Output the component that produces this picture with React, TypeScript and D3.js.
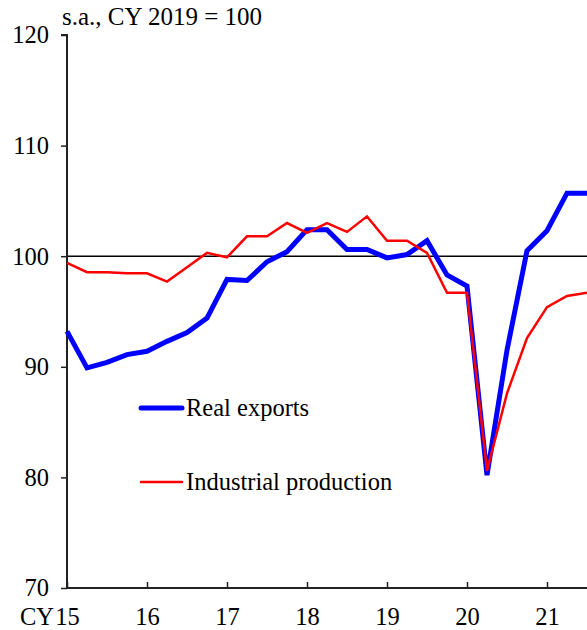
import React, { useEffect, useRef } from 'react';
import * as d3 from 'd3';

// quarterly, CY15 Q1 .. CY21 Q3
const quarters = d3.range(27);
const realExports = [
  93.2, 89.9, 90.4, 91.1, 91.4, 92.3, 93.1, 94.4,
  97.9, 97.8, 99.5, 100.4, 102.4, 102.4, 100.6, 100.6,
  99.85, 100.15, 101.4, 98.3, 97.3, 80.2, 91.5, 100.5,
  102.3, 105.7, 105.7,
];
const industrialProduction = [
  99.4, 98.55, 98.55, 98.45, 98.45, 97.7, 99.0, 100.3,
  99.9, 101.8, 101.8, 103.0, 102.1, 103.0, 102.2, 103.6,
  101.4, 101.4, 100.3, 96.7, 96.7, 80.6, 87.6, 92.6,
  95.4, 96.4, 96.7,
];
const yTicks = [70, 80, 90, 100, 110, 120];
const xTickIdx = [0, 4, 8, 12, 16, 20, 24];
const xTickLabels = ['15', '16', '17', '18', '19', '20', '21'];

const W = 587;
const H = 630;

const App = () => {
  const svgRef = useRef<SVGSVGElement>(null);

  useEffect(() => {
    document.body.style.margin = '0';
    const svg = d3.select(svgRef.current);
    svg.selectAll('*').remove();

    const font = '"Liberation Serif", "Times New Roman", serif';
    const fs = '24.5px';
    const x = d3.scaleLinear().domain([0, 26]).range([67, 587]);
    const y = d3.scaleLinear().domain([70, 120]).range([588, 35]);

    // reference line at 100
    svg.append('line')
      .attr('x1', x(0)).attr('x2', W)
      .attr('y1', y(100)).attr('y2', y(100))
      .attr('stroke', '#000').attr('stroke-width', 1.5);

    // y axis
    const yAxis = d3.axisLeft(y).tickValues(yTicks).tickSize(6).tickFormat(d3.format('d'));
    const gy = svg.append('g').attr('transform', `translate(${x(0)},0)`).call(yAxis);
    gy.select('.domain').attr('stroke', '#222').attr('stroke-width', 2).attr('d', `M-6,${y(120)}H0V${y(70)}`);
    gy.selectAll('.tick line').attr('stroke', '#222').attr('stroke-width', 1.5);
    gy.selectAll('.tick text')
      .attr('x', -18)
      .style('font-family', font).style('font-size', fs).attr('fill', '#000');

    // x axis
    const xAxis = d3.axisBottom(x).tickValues(xTickIdx).tickSize(-6)
      .tickFormat((d, i) => xTickLabels[i]);
    const gx = svg.append('g').attr('transform', `translate(0,${y(70)})`).call(xAxis);
    gx.select('.domain').attr('stroke', '#222').attr('stroke-width', 2).attr('d', `M${x(0)},0H${W}`);
    gx.selectAll('.tick line').attr('stroke', '#222').attr('stroke-width', 1.5);
    gx.selectAll('.tick text')
      .attr('y', 37).attr('dy', null)
      .style('font-family', font).style('font-size', fs).attr('fill', '#000');
    svg.append('text')
      .attr('x', 54).attr('y', y(70) + 37)
      .attr('text-anchor', 'end')
      .style('font-family', font).style('font-size', fs)
      .text('CY');

    // unit label
    svg.append('text')
      .attr('x', 62).attr('y', 25)
      .style('font-family', font).style('font-size', '25px')
      .text('s.a., CY 2019 = 100');

    const line = (vals: number[]) => d3.line<number>()
      .x(i => x(i))
      .y(i => y(vals[i]))(quarters);

    svg.append('path')
      .attr('d', line(realExports))
      .attr('fill', 'none').attr('stroke', '#0000ff').attr('stroke-width', 5)
      .attr('stroke-linejoin', 'miter');
    svg.append('path')
      .attr('d', line(industrialProduction))
      .attr('fill', 'none').attr('stroke', '#ff0000').attr('stroke-width', 2.5)
      .attr('stroke-linejoin', 'miter');

    // legend
    const legend = [
      { label: 'Real exports', color: '#0000ff', w: 5, yy: 408 },
      { label: 'Industrial production', color: '#ff0000', w: 2.5, yy: 482 },
    ];
    legend.forEach(l => {
      svg.append('line')
        .attr('x1', 141).attr('x2', 182).attr('y1', l.yy).attr('y2', l.yy)
        .attr('stroke', l.color).attr('stroke-width', l.w)
        .attr('stroke-linecap', 'round');
      svg.append('text')
        .attr('x', 186).attr('y', l.yy + 8)
        .style('font-family', font).style('font-size', fs)
        .text(l.label);
    });
  }, []);

  return <svg ref={svgRef} width={W} height={H} style={{ display: 'block' }} />;
};

export default App;
